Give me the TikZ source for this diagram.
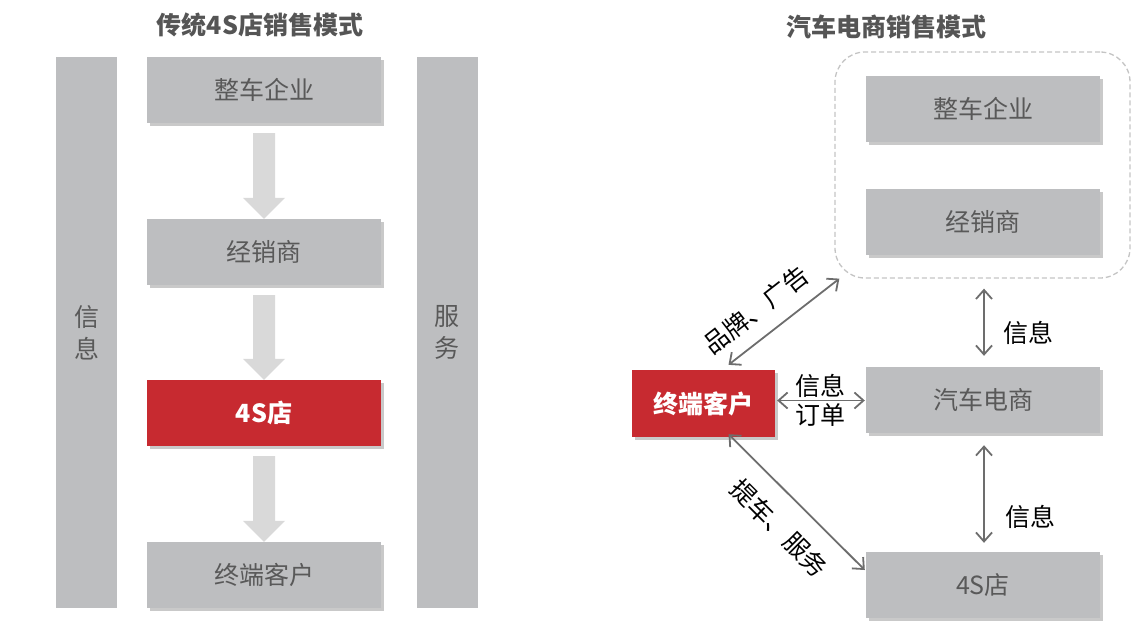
\documentclass[tikz,border=0pt]{standalone}
\usepackage{fontspec}
\setmainfont{Noto Sans CJK SC}
\usetikzlibrary{arrows.meta,shadows,calc}
\definecolor{boxgray}{HTML}{BDBEC0}
\definecolor{txtgray}{HTML}{595959}
\definecolor{redfill}{HTML}{C72A30}
\definecolor{arrgray}{HTML}{D9D9D9}
\definecolor{linegray}{HTML}{6D6D6D}
\definecolor{dashgray}{HTML}{C4C4C4}
\definecolor{titlegray}{HTML}{555555}
\newcommand{\blockarr}[2]{%
  \fill[arrgray] ($(#1.south)+(-11,10)$) -- ($(#1.south)+(11,10)$) -- ($(#2.north)+(11,-21)$) -- ($(#2.north)+(21,-21)$) -- (#2.north) -- ($(#2.north)+(-21,-21)$) -- ($(#2.north)+(-11,-21)$) -- cycle;}
\begin{document}
\begin{tikzpicture}[x=1pt,y=-1pt,
  txt/.style={font=\fontsize{25}{30}\selectfont},
  box/.style={txt, fill=boxgray, text=txtgray, minimum width=234pt, minimum height=66pt, inner sep=0pt,
    drop shadow={shadow xshift=3pt, shadow yshift=-3pt, opacity=0.3, fill=black!70}},
  redbox/.style={box, fill=redfill, text=white, font=\fontsize{25}{30}\selectfont\bfseries},
  bar/.style={txt, fill=boxgray, text=txtgray, minimum width=61pt, minimum height=551pt, inner sep=0pt, align=center},
  title/.style={font=\fontsize{25}{30}\selectfont\bfseries, text=titlegray},
  lbl/.style={txt, text=black, inner sep=0pt},
  dbl/.style={draw=linegray, line width=1.8pt, {Straight Barb[length=9pt,width=16pt]}-{Straight Barb[length=9pt,width=16pt]}}
]
\useasboundingbox (0,0) rectangle (1146,632);
% titles
\node[title] (T1) at (260,25) {传统4S店销售模式};
\node[title] (T2) at (886,27) {汽车电商销售模式};
% left side
\node[bar] (Linfo) at (86.5,332.5) {信\\[2pt]息};
\node[bar] (Lserv) at (447,332.5) {服\\[2pt]务};
\node[box] (L1) at (264,90) {整车企业};
\node[box] (L2) at (264,252) {经销商};
\node[redbox] (L3) at (264,413) {4S店};
\node[box] (L4) at (264,575) {终端客户};
\blockarr{L1}{L2}
\blockarr{L2}{L3}
\blockarr{L3}{L4}
% right side
\node[draw=dashgray, dashed, dash pattern=on 5pt off 3pt, line width=1.3pt, rounded corners=30pt, minimum width=295pt, minimum height=226pt] (G) at (982.5,165) {};
\node[box] (R1) at (983,109) {整车企业};
\node[box] (R2) at (983,221.5) {经销商};
\node[box] (R3) at (983,400) {汽车电商};
\node[box] (R4) at (983,585) {4S店};
\node[redbox, minimum width=143pt, minimum height=67pt] (C) at (703.5,403.5) {终端客户};
% connectors
\draw[dbl] ($(C.north)+(25,-5)$) -- ($(G.south west)+(5,0)$);
\draw[dbl] ($(C.east)+(2,-3)$) -- ($(C.east -| R3.west)+(-1,-3)$);
\draw[dbl] ($(C.south)+(25,-3)$) -- ($(R4.west)+(-1,-15)$);
\draw[dbl] ($(G.south)+(1.5,10)$) -- ($(R3.north)+(1,-11)$);
\draw[dbl] ($(R3.south)+(1,12)$) -- ($(R4.north)+(1,-9)$);
% labels
\node[lbl, rotate=38] (lb1) at (756,310) {品牌、广告};
\node[lbl, rotate=-45] (lb2) at (779,528) {提车、服务};
\node[lbl] (lb3) at (820,386) {信息};
\node[lbl] (lb4) at (820,415) {订单};
\node[lbl] (lb5) at (1028,333) {信息};
\node[lbl] (lb6) at (1030,517) {信息};
\end{tikzpicture}
\end{document}
